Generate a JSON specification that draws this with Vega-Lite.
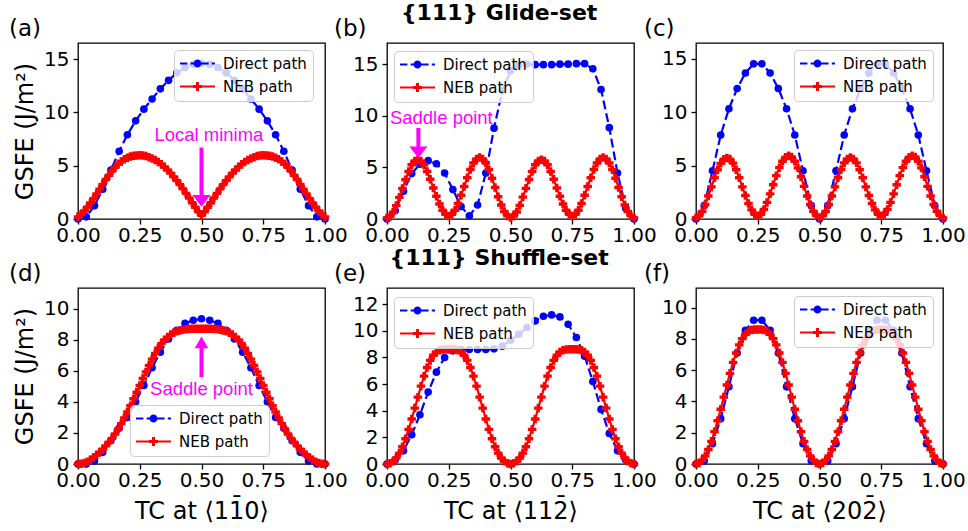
{
"$schema": "https://vega.github.io/schema/vega-lite/v6.json",
"padding": {"left": 8, "top": 2, "right": 0, "bottom": 0},
"background": "white",
"config": {
 "font": "DejaVu Sans",
 "view": {"stroke": "#000000", "strokeWidth": 1.3},
 "axis": {"grid": false, "domain": false, "ticks": true, "tickCount": 20, "tickColor": "#000000", "tickSize": 5, "tickWidth": 1.3, "labelColor": "#000000", "labelFont": "DejaVu Sans", "labelFontSize": 20, "labelFlush": false, "labelOverlap": false, "labelBound": false, "titleFont": "DejaVu Sans", "titleFontSize": 24, "titleFontWeight": "normal", "titleColor": "#000000"},
 "axisX": {"labelPadding": 1, "titlePadding": 9, "titleFontSize": 24, "format": ".2f"},
 "axisY": {"labelPadding": 4, "titlePadding": 6, "format": ".0f"},
 "legend": {"orient": "none", "labelFont": "DejaVu Sans", "labelFontSize": 15, "labelColor": "#000000", "fillColor": "rgba(255,255,255,0.8)", "strokeColor": "#cccccc", "cornerRadius": 4, "padding": 6, "rowPadding": 7, "symbolSize": 100, "symbolOffset": 10, "labelOffset": 18, "symbolStrokeWidth": 0, "symbolOpacity": 1},
 "title": {"font": "DejaVu Sans", "color": "#000000", "fontWeight": "normal", "fontSize": 23}
},
"datasets": {
 "a": [
  {"path":"Direct path","tc":0,"gsfe":0},{"path":"Direct path","tc":0.0333,"gsfe":0.2},{"path":"Direct path","tc":0.0667,"gsfe":1.25},{"path":"Direct path","tc":0.1,"gsfe":2.8},{"path":"Direct path","tc":0.1333,"gsfe":4.6},{"path":"Direct path","tc":0.1667,"gsfe":6.35},{"path":"Direct path","tc":0.2,"gsfe":7.9},{"path":"Direct path","tc":0.2333,"gsfe":9.2},{"path":"Direct path","tc":0.2667,"gsfe":10.3},{"path":"Direct path","tc":0.3,"gsfe":11.25},{"path":"Direct path","tc":0.3333,"gsfe":12.2},{"path":"Direct path","tc":0.3667,"gsfe":13},{"path":"Direct path","tc":0.4,"gsfe":13.7},{"path":"Direct path","tc":0.4333,"gsfe":14.2},{"path":"Direct path","tc":0.4667,"gsfe":14.5},{"path":"Direct path","tc":0.5,"gsfe":14.6},{"path":"Direct path","tc":0.5333,"gsfe":14.5},{"path":"Direct path","tc":0.5667,"gsfe":14.2},{"path":"Direct path","tc":0.6,"gsfe":13.7},{"path":"Direct path","tc":0.6333,"gsfe":13},{"path":"Direct path","tc":0.6667,"gsfe":12.2},{"path":"Direct path","tc":0.7,"gsfe":11.25},{"path":"Direct path","tc":0.7333,"gsfe":10.3},{"path":"Direct path","tc":0.7667,"gsfe":9.2},{"path":"Direct path","tc":0.8,"gsfe":7.9},{"path":"Direct path","tc":0.8333,"gsfe":6.35},{"path":"Direct path","tc":0.8667,"gsfe":4.6},{"path":"Direct path","tc":0.9,"gsfe":2.8},{"path":"Direct path","tc":0.9333,"gsfe":1.25},{"path":"Direct path","tc":0.9667,"gsfe":0.2},{"path":"Direct path","tc":1,"gsfe":0},
  {"path":"NEB path","tc":0,"gsfe":0.2},{"path":"NEB path","tc":0.0125,"gsfe":0.45},{"path":"NEB path","tc":0.025,"gsfe":0.75},{"path":"NEB path","tc":0.0375,"gsfe":1.1},{"path":"NEB path","tc":0.05,"gsfe":1.5},{"path":"NEB path","tc":0.0625,"gsfe":1.9},{"path":"NEB path","tc":0.075,"gsfe":2.35},{"path":"NEB path","tc":0.0875,"gsfe":2.8},{"path":"NEB path","tc":0.1,"gsfe":3.25},{"path":"NEB path","tc":0.1125,"gsfe":3.7},{"path":"NEB path","tc":0.125,"gsfe":4.1},{"path":"NEB path","tc":0.1375,"gsfe":4.5},{"path":"NEB path","tc":0.15,"gsfe":4.85},{"path":"NEB path","tc":0.1625,"gsfe":5.15},{"path":"NEB path","tc":0.175,"gsfe":5.4},{"path":"NEB path","tc":0.1875,"gsfe":5.6},{"path":"NEB path","tc":0.2,"gsfe":5.75},{"path":"NEB path","tc":0.2125,"gsfe":5.85},{"path":"NEB path","tc":0.225,"gsfe":5.92},{"path":"NEB path","tc":0.2375,"gsfe":5.96},{"path":"NEB path","tc":0.25,"gsfe":5.97},{"path":"NEB path","tc":0.2625,"gsfe":5.95},{"path":"NEB path","tc":0.275,"gsfe":5.9},{"path":"NEB path","tc":0.2875,"gsfe":5.8},{"path":"NEB path","tc":0.3,"gsfe":5.68},{"path":"NEB path","tc":0.3125,"gsfe":5.53},{"path":"NEB path","tc":0.325,"gsfe":5.35},{"path":"NEB path","tc":0.3375,"gsfe":5.13},{"path":"NEB path","tc":0.35,"gsfe":4.88},{"path":"NEB path","tc":0.3625,"gsfe":4.6},{"path":"NEB path","tc":0.375,"gsfe":4.3},{"path":"NEB path","tc":0.3875,"gsfe":3.95},{"path":"NEB path","tc":0.4,"gsfe":3.6},{"path":"NEB path","tc":0.4125,"gsfe":3.22},{"path":"NEB path","tc":0.425,"gsfe":2.82},{"path":"NEB path","tc":0.4375,"gsfe":2.4},{"path":"NEB path","tc":0.45,"gsfe":1.97},{"path":"NEB path","tc":0.4625,"gsfe":1.53},{"path":"NEB path","tc":0.475,"gsfe":1.1},{"path":"NEB path","tc":0.4875,"gsfe":0.68},{"path":"NEB path","tc":0.5,"gsfe":0.35},{"path":"NEB path","tc":0.5125,"gsfe":0.68},{"path":"NEB path","tc":0.525,"gsfe":1.1},{"path":"NEB path","tc":0.5375,"gsfe":1.53},{"path":"NEB path","tc":0.55,"gsfe":1.97},{"path":"NEB path","tc":0.5625,"gsfe":2.4},{"path":"NEB path","tc":0.575,"gsfe":2.82},{"path":"NEB path","tc":0.5875,"gsfe":3.22},{"path":"NEB path","tc":0.6,"gsfe":3.6},{"path":"NEB path","tc":0.6125,"gsfe":3.95},{"path":"NEB path","tc":0.625,"gsfe":4.3},{"path":"NEB path","tc":0.6375,"gsfe":4.6},{"path":"NEB path","tc":0.65,"gsfe":4.88},{"path":"NEB path","tc":0.6625,"gsfe":5.13},{"path":"NEB path","tc":0.675,"gsfe":5.35},{"path":"NEB path","tc":0.6875,"gsfe":5.53},{"path":"NEB path","tc":0.7,"gsfe":5.68},{"path":"NEB path","tc":0.7125,"gsfe":5.8},{"path":"NEB path","tc":0.725,"gsfe":5.9},{"path":"NEB path","tc":0.7375,"gsfe":5.95},{"path":"NEB path","tc":0.75,"gsfe":5.97},{"path":"NEB path","tc":0.7625,"gsfe":5.96},{"path":"NEB path","tc":0.775,"gsfe":5.92},{"path":"NEB path","tc":0.7875,"gsfe":5.85},{"path":"NEB path","tc":0.8,"gsfe":5.75},{"path":"NEB path","tc":0.8125,"gsfe":5.6},{"path":"NEB path","tc":0.825,"gsfe":5.4},{"path":"NEB path","tc":0.8375,"gsfe":5.15},{"path":"NEB path","tc":0.85,"gsfe":4.85},{"path":"NEB path","tc":0.8625,"gsfe":4.5},{"path":"NEB path","tc":0.875,"gsfe":4.1},{"path":"NEB path","tc":0.8875,"gsfe":3.7},{"path":"NEB path","tc":0.9,"gsfe":3.25},{"path":"NEB path","tc":0.9125,"gsfe":2.8},{"path":"NEB path","tc":0.925,"gsfe":2.35},{"path":"NEB path","tc":0.9375,"gsfe":1.9},{"path":"NEB path","tc":0.95,"gsfe":1.5},{"path":"NEB path","tc":0.9625,"gsfe":1.1},{"path":"NEB path","tc":0.975,"gsfe":0.75},{"path":"NEB path","tc":0.9875,"gsfe":0.45},{"path":"NEB path","tc":1,"gsfe":0.2}
 ],
 "b": [
  {"path":"Direct path","tc":0,"gsfe":0},{"path":"Direct path","tc":0.0333,"gsfe":0.8},{"path":"Direct path","tc":0.0667,"gsfe":2.7},{"path":"Direct path","tc":0.1,"gsfe":4.4},{"path":"Direct path","tc":0.1333,"gsfe":5.3},{"path":"Direct path","tc":0.1667,"gsfe":5.65},{"path":"Direct path","tc":0.2,"gsfe":5.35},{"path":"Direct path","tc":0.2333,"gsfe":4.45},{"path":"Direct path","tc":0.2667,"gsfe":2.85},{"path":"Direct path","tc":0.3,"gsfe":1.2},{"path":"Direct path","tc":0.3333,"gsfe":0.3},{"path":"Direct path","tc":0.3667,"gsfe":1.35},{"path":"Direct path","tc":0.4,"gsfe":4.45},{"path":"Direct path","tc":0.4333,"gsfe":8.8},{"path":"Direct path","tc":0.4667,"gsfe":12.4},{"path":"Direct path","tc":0.5,"gsfe":14.35},{"path":"Direct path","tc":0.5333,"gsfe":14.9},{"path":"Direct path","tc":0.5667,"gsfe":15},{"path":"Direct path","tc":0.6,"gsfe":14.95},{"path":"Direct path","tc":0.6333,"gsfe":14.95},{"path":"Direct path","tc":0.6667,"gsfe":14.95},{"path":"Direct path","tc":0.7,"gsfe":15},{"path":"Direct path","tc":0.7333,"gsfe":15},{"path":"Direct path","tc":0.7667,"gsfe":15.05},{"path":"Direct path","tc":0.8,"gsfe":15.05},{"path":"Direct path","tc":0.8333,"gsfe":14.55},{"path":"Direct path","tc":0.8667,"gsfe":12.55},{"path":"Direct path","tc":0.9,"gsfe":8.85},{"path":"Direct path","tc":0.9333,"gsfe":4.45},{"path":"Direct path","tc":0.9667,"gsfe":1.05},{"path":"Direct path","tc":1,"gsfe":0},
  {"path":"NEB path","tc":0,"gsfe":0.1},{"path":"NEB path","tc":0.0125,"gsfe":0.25},{"path":"NEB path","tc":0.025,"gsfe":0.65},{"path":"NEB path","tc":0.0375,"gsfe":1.3},{"path":"NEB path","tc":0.05,"gsfe":2.1},{"path":"NEB path","tc":0.0625,"gsfe":2.95},{"path":"NEB path","tc":0.075,"gsfe":3.8},{"path":"NEB path","tc":0.0875,"gsfe":4.6},{"path":"NEB path","tc":0.1,"gsfe":5.25},{"path":"NEB path","tc":0.1125,"gsfe":5.62},{"path":"NEB path","tc":0.125,"gsfe":5.75},{"path":"NEB path","tc":0.1375,"gsfe":5.62},{"path":"NEB path","tc":0.15,"gsfe":5.25},{"path":"NEB path","tc":0.1625,"gsfe":4.6},{"path":"NEB path","tc":0.175,"gsfe":3.85},{"path":"NEB path","tc":0.1875,"gsfe":3},{"path":"NEB path","tc":0.2,"gsfe":2.2},{"path":"NEB path","tc":0.2125,"gsfe":1.45},{"path":"NEB path","tc":0.225,"gsfe":0.85},{"path":"NEB path","tc":0.2375,"gsfe":0.45},{"path":"NEB path","tc":0.25,"gsfe":0.3},{"path":"NEB path","tc":0.2625,"gsfe":0.45},{"path":"NEB path","tc":0.275,"gsfe":0.85},{"path":"NEB path","tc":0.2875,"gsfe":1.5},{"path":"NEB path","tc":0.3,"gsfe":2.3},{"path":"NEB path","tc":0.3125,"gsfe":3.15},{"path":"NEB path","tc":0.325,"gsfe":4},{"path":"NEB path","tc":0.3375,"gsfe":4.8},{"path":"NEB path","tc":0.35,"gsfe":5.42},{"path":"NEB path","tc":0.3625,"gsfe":5.82},{"path":"NEB path","tc":0.375,"gsfe":5.95},{"path":"NEB path","tc":0.3875,"gsfe":5.82},{"path":"NEB path","tc":0.4,"gsfe":5.42},{"path":"NEB path","tc":0.4125,"gsfe":4.78},{"path":"NEB path","tc":0.425,"gsfe":3.95},{"path":"NEB path","tc":0.4375,"gsfe":3.05},{"path":"NEB path","tc":0.45,"gsfe":2.15},{"path":"NEB path","tc":0.4625,"gsfe":1.35},{"path":"NEB path","tc":0.475,"gsfe":0.72},{"path":"NEB path","tc":0.4875,"gsfe":0.3},{"path":"NEB path","tc":0.5,"gsfe":0.15},{"path":"NEB path","tc":0.5125,"gsfe":0.28},{"path":"NEB path","tc":0.525,"gsfe":0.68},{"path":"NEB path","tc":0.5375,"gsfe":1.32},{"path":"NEB path","tc":0.55,"gsfe":2.12},{"path":"NEB path","tc":0.5625,"gsfe":2.97},{"path":"NEB path","tc":0.575,"gsfe":3.82},{"path":"NEB path","tc":0.5875,"gsfe":4.6},{"path":"NEB path","tc":0.6,"gsfe":5.25},{"path":"NEB path","tc":0.6125,"gsfe":5.62},{"path":"NEB path","tc":0.625,"gsfe":5.75},{"path":"NEB path","tc":0.6375,"gsfe":5.62},{"path":"NEB path","tc":0.65,"gsfe":5.25},{"path":"NEB path","tc":0.6625,"gsfe":4.6},{"path":"NEB path","tc":0.675,"gsfe":3.85},{"path":"NEB path","tc":0.6875,"gsfe":3},{"path":"NEB path","tc":0.7,"gsfe":2.2},{"path":"NEB path","tc":0.7125,"gsfe":1.45},{"path":"NEB path","tc":0.725,"gsfe":0.85},{"path":"NEB path","tc":0.7375,"gsfe":0.45},{"path":"NEB path","tc":0.75,"gsfe":0.3},{"path":"NEB path","tc":0.7625,"gsfe":0.45},{"path":"NEB path","tc":0.775,"gsfe":0.85},{"path":"NEB path","tc":0.7875,"gsfe":1.5},{"path":"NEB path","tc":0.8,"gsfe":2.3},{"path":"NEB path","tc":0.8125,"gsfe":3.15},{"path":"NEB path","tc":0.825,"gsfe":4},{"path":"NEB path","tc":0.8375,"gsfe":4.8},{"path":"NEB path","tc":0.85,"gsfe":5.42},{"path":"NEB path","tc":0.8625,"gsfe":5.82},{"path":"NEB path","tc":0.875,"gsfe":5.95},{"path":"NEB path","tc":0.8875,"gsfe":5.82},{"path":"NEB path","tc":0.9,"gsfe":5.42},{"path":"NEB path","tc":0.9125,"gsfe":4.78},{"path":"NEB path","tc":0.925,"gsfe":3.95},{"path":"NEB path","tc":0.9375,"gsfe":3.05},{"path":"NEB path","tc":0.95,"gsfe":2.15},{"path":"NEB path","tc":0.9625,"gsfe":1.35},{"path":"NEB path","tc":0.975,"gsfe":0.72},{"path":"NEB path","tc":0.9875,"gsfe":0.3},{"path":"NEB path","tc":1,"gsfe":0.1}
 ],
 "c": [
  {"path":"Direct path","tc":0,"gsfe":0},{"path":"Direct path","tc":0.0333,"gsfe":1.25},{"path":"Direct path","tc":0.0667,"gsfe":4.5},{"path":"Direct path","tc":0.1,"gsfe":7.85},{"path":"Direct path","tc":0.1333,"gsfe":10.3},{"path":"Direct path","tc":0.1667,"gsfe":12.2},{"path":"Direct path","tc":0.2,"gsfe":13.65},{"path":"Direct path","tc":0.2333,"gsfe":14.5},{"path":"Direct path","tc":0.2667,"gsfe":14.5},{"path":"Direct path","tc":0.3,"gsfe":13.65},{"path":"Direct path","tc":0.3333,"gsfe":12.2},{"path":"Direct path","tc":0.3667,"gsfe":10.3},{"path":"Direct path","tc":0.4,"gsfe":7.85},{"path":"Direct path","tc":0.4333,"gsfe":4.5},{"path":"Direct path","tc":0.4667,"gsfe":1.25},{"path":"Direct path","tc":0.5,"gsfe":0},{"path":"Direct path","tc":0.5333,"gsfe":1.25},{"path":"Direct path","tc":0.5667,"gsfe":4.5},{"path":"Direct path","tc":0.6,"gsfe":7.85},{"path":"Direct path","tc":0.6333,"gsfe":10.3},{"path":"Direct path","tc":0.6667,"gsfe":12.2},{"path":"Direct path","tc":0.7,"gsfe":13.65},{"path":"Direct path","tc":0.7333,"gsfe":14.5},{"path":"Direct path","tc":0.7667,"gsfe":14.5},{"path":"Direct path","tc":0.8,"gsfe":13.65},{"path":"Direct path","tc":0.8333,"gsfe":12.2},{"path":"Direct path","tc":0.8667,"gsfe":10.3},{"path":"Direct path","tc":0.9,"gsfe":7.85},{"path":"Direct path","tc":0.9333,"gsfe":4.5},{"path":"Direct path","tc":0.9667,"gsfe":1.25},{"path":"Direct path","tc":1,"gsfe":0},
  {"path":"NEB path","tc":0,"gsfe":0.1},{"path":"NEB path","tc":0.0125,"gsfe":0.3},{"path":"NEB path","tc":0.025,"gsfe":0.7},{"path":"NEB path","tc":0.0375,"gsfe":1.35},{"path":"NEB path","tc":0.05,"gsfe":2.15},{"path":"NEB path","tc":0.0625,"gsfe":3},{"path":"NEB path","tc":0.075,"gsfe":3.85},{"path":"NEB path","tc":0.0875,"gsfe":4.6},{"path":"NEB path","tc":0.1,"gsfe":5.2},{"path":"NEB path","tc":0.1125,"gsfe":5.58},{"path":"NEB path","tc":0.125,"gsfe":5.7},{"path":"NEB path","tc":0.1375,"gsfe":5.6},{"path":"NEB path","tc":0.15,"gsfe":5.22},{"path":"NEB path","tc":0.1625,"gsfe":4.6},{"path":"NEB path","tc":0.175,"gsfe":3.85},{"path":"NEB path","tc":0.1875,"gsfe":3},{"path":"NEB path","tc":0.2,"gsfe":2.2},{"path":"NEB path","tc":0.2125,"gsfe":1.45},{"path":"NEB path","tc":0.225,"gsfe":0.85},{"path":"NEB path","tc":0.2375,"gsfe":0.45},{"path":"NEB path","tc":0.25,"gsfe":0.3},{"path":"NEB path","tc":0.2625,"gsfe":0.45},{"path":"NEB path","tc":0.275,"gsfe":0.9},{"path":"NEB path","tc":0.2875,"gsfe":1.55},{"path":"NEB path","tc":0.3,"gsfe":2.35},{"path":"NEB path","tc":0.3125,"gsfe":3.2},{"path":"NEB path","tc":0.325,"gsfe":4.05},{"path":"NEB path","tc":0.3375,"gsfe":4.8},{"path":"NEB path","tc":0.35,"gsfe":5.4},{"path":"NEB path","tc":0.3625,"gsfe":5.78},{"path":"NEB path","tc":0.375,"gsfe":5.92},{"path":"NEB path","tc":0.3875,"gsfe":5.8},{"path":"NEB path","tc":0.4,"gsfe":5.4},{"path":"NEB path","tc":0.4125,"gsfe":4.78},{"path":"NEB path","tc":0.425,"gsfe":3.95},{"path":"NEB path","tc":0.4375,"gsfe":3.05},{"path":"NEB path","tc":0.45,"gsfe":2.15},{"path":"NEB path","tc":0.4625,"gsfe":1.35},{"path":"NEB path","tc":0.475,"gsfe":0.72},{"path":"NEB path","tc":0.4875,"gsfe":0.32},{"path":"NEB path","tc":0.5,"gsfe":0.15},{"path":"NEB path","tc":0.5125,"gsfe":0.3},{"path":"NEB path","tc":0.525,"gsfe":0.7},{"path":"NEB path","tc":0.5375,"gsfe":1.35},{"path":"NEB path","tc":0.55,"gsfe":2.15},{"path":"NEB path","tc":0.5625,"gsfe":3},{"path":"NEB path","tc":0.575,"gsfe":3.85},{"path":"NEB path","tc":0.5875,"gsfe":4.62},{"path":"NEB path","tc":0.6,"gsfe":5.25},{"path":"NEB path","tc":0.6125,"gsfe":5.62},{"path":"NEB path","tc":0.625,"gsfe":5.75},{"path":"NEB path","tc":0.6375,"gsfe":5.62},{"path":"NEB path","tc":0.65,"gsfe":5.25},{"path":"NEB path","tc":0.6625,"gsfe":4.6},{"path":"NEB path","tc":0.675,"gsfe":3.85},{"path":"NEB path","tc":0.6875,"gsfe":3},{"path":"NEB path","tc":0.7,"gsfe":2.2},{"path":"NEB path","tc":0.7125,"gsfe":1.45},{"path":"NEB path","tc":0.725,"gsfe":0.85},{"path":"NEB path","tc":0.7375,"gsfe":0.45},{"path":"NEB path","tc":0.75,"gsfe":0.3},{"path":"NEB path","tc":0.7625,"gsfe":0.45},{"path":"NEB path","tc":0.775,"gsfe":0.9},{"path":"NEB path","tc":0.7875,"gsfe":1.55},{"path":"NEB path","tc":0.8,"gsfe":2.35},{"path":"NEB path","tc":0.8125,"gsfe":3.2},{"path":"NEB path","tc":0.825,"gsfe":4.05},{"path":"NEB path","tc":0.8375,"gsfe":4.8},{"path":"NEB path","tc":0.85,"gsfe":5.4},{"path":"NEB path","tc":0.8625,"gsfe":5.78},{"path":"NEB path","tc":0.875,"gsfe":5.92},{"path":"NEB path","tc":0.8875,"gsfe":5.8},{"path":"NEB path","tc":0.9,"gsfe":5.4},{"path":"NEB path","tc":0.9125,"gsfe":4.78},{"path":"NEB path","tc":0.925,"gsfe":3.95},{"path":"NEB path","tc":0.9375,"gsfe":3.05},{"path":"NEB path","tc":0.95,"gsfe":2.15},{"path":"NEB path","tc":0.9625,"gsfe":1.35},{"path":"NEB path","tc":0.975,"gsfe":0.72},{"path":"NEB path","tc":0.9875,"gsfe":0.32},{"path":"NEB path","tc":1,"gsfe":0.1}
 ],
 "d": [
  {"path":"Direct path","tc":0,"gsfe":0},{"path":"Direct path","tc":0.0333,"gsfe":0},{"path":"Direct path","tc":0.0667,"gsfe":0.2},{"path":"Direct path","tc":0.1,"gsfe":0.75},{"path":"Direct path","tc":0.1333,"gsfe":1.5},{"path":"Direct path","tc":0.1667,"gsfe":2.3},{"path":"Direct path","tc":0.2,"gsfe":3},{"path":"Direct path","tc":0.2333,"gsfe":4},{"path":"Direct path","tc":0.2667,"gsfe":5.05},{"path":"Direct path","tc":0.3,"gsfe":6.2},{"path":"Direct path","tc":0.3333,"gsfe":7.2},{"path":"Direct path","tc":0.3667,"gsfe":8.05},{"path":"Direct path","tc":0.4,"gsfe":8.6},{"path":"Direct path","tc":0.4333,"gsfe":9.05},{"path":"Direct path","tc":0.4667,"gsfe":9.25},{"path":"Direct path","tc":0.5,"gsfe":9.35},{"path":"Direct path","tc":0.5333,"gsfe":9.25},{"path":"Direct path","tc":0.5667,"gsfe":9.05},{"path":"Direct path","tc":0.6,"gsfe":8.6},{"path":"Direct path","tc":0.6333,"gsfe":8.05},{"path":"Direct path","tc":0.6667,"gsfe":7.2},{"path":"Direct path","tc":0.7,"gsfe":6.2},{"path":"Direct path","tc":0.7333,"gsfe":5.05},{"path":"Direct path","tc":0.7667,"gsfe":4},{"path":"Direct path","tc":0.8,"gsfe":3},{"path":"Direct path","tc":0.8333,"gsfe":2.3},{"path":"Direct path","tc":0.8667,"gsfe":1.5},{"path":"Direct path","tc":0.9,"gsfe":0.75},{"path":"Direct path","tc":0.9333,"gsfe":0.2},{"path":"Direct path","tc":0.9667,"gsfe":0},{"path":"Direct path","tc":1,"gsfe":0},
  {"path":"NEB path","tc":0,"gsfe":0},{"path":"NEB path","tc":0.0125,"gsfe":0.02},{"path":"NEB path","tc":0.025,"gsfe":0.07},{"path":"NEB path","tc":0.0375,"gsfe":0.15},{"path":"NEB path","tc":0.05,"gsfe":0.27},{"path":"NEB path","tc":0.0625,"gsfe":0.42},{"path":"NEB path","tc":0.075,"gsfe":0.58},{"path":"NEB path","tc":0.0875,"gsfe":0.76},{"path":"NEB path","tc":0.1,"gsfe":0.95},{"path":"NEB path","tc":0.1125,"gsfe":1.17},{"path":"NEB path","tc":0.125,"gsfe":1.4},{"path":"NEB path","tc":0.1375,"gsfe":1.65},{"path":"NEB path","tc":0.15,"gsfe":1.93},{"path":"NEB path","tc":0.1625,"gsfe":2.25},{"path":"NEB path","tc":0.175,"gsfe":2.6},{"path":"NEB path","tc":0.1875,"gsfe":2.97},{"path":"NEB path","tc":0.2,"gsfe":3.35},{"path":"NEB path","tc":0.2125,"gsfe":3.75},{"path":"NEB path","tc":0.225,"gsfe":4.2},{"path":"NEB path","tc":0.2375,"gsfe":4.62},{"path":"NEB path","tc":0.25,"gsfe":5.05},{"path":"NEB path","tc":0.2625,"gsfe":5.5},{"path":"NEB path","tc":0.275,"gsfe":5.93},{"path":"NEB path","tc":0.2875,"gsfe":6.35},{"path":"NEB path","tc":0.3,"gsfe":6.75},{"path":"NEB path","tc":0.3125,"gsfe":7.12},{"path":"NEB path","tc":0.325,"gsfe":7.45},{"path":"NEB path","tc":0.3375,"gsfe":7.75},{"path":"NEB path","tc":0.35,"gsfe":7.98},{"path":"NEB path","tc":0.3625,"gsfe":8.17},{"path":"NEB path","tc":0.375,"gsfe":8.33},{"path":"NEB path","tc":0.3875,"gsfe":8.45},{"path":"NEB path","tc":0.4,"gsfe":8.54},{"path":"NEB path","tc":0.4125,"gsfe":8.6},{"path":"NEB path","tc":0.425,"gsfe":8.64},{"path":"NEB path","tc":0.4375,"gsfe":8.67},{"path":"NEB path","tc":0.45,"gsfe":8.69},{"path":"NEB path","tc":0.4625,"gsfe":8.7},{"path":"NEB path","tc":0.475,"gsfe":8.7},{"path":"NEB path","tc":0.4875,"gsfe":8.7},{"path":"NEB path","tc":0.5,"gsfe":8.7},{"path":"NEB path","tc":0.5125,"gsfe":8.7},{"path":"NEB path","tc":0.525,"gsfe":8.7},{"path":"NEB path","tc":0.5375,"gsfe":8.7},{"path":"NEB path","tc":0.55,"gsfe":8.69},{"path":"NEB path","tc":0.5625,"gsfe":8.67},{"path":"NEB path","tc":0.575,"gsfe":8.64},{"path":"NEB path","tc":0.5875,"gsfe":8.6},{"path":"NEB path","tc":0.6,"gsfe":8.54},{"path":"NEB path","tc":0.6125,"gsfe":8.45},{"path":"NEB path","tc":0.625,"gsfe":8.33},{"path":"NEB path","tc":0.6375,"gsfe":8.17},{"path":"NEB path","tc":0.65,"gsfe":7.98},{"path":"NEB path","tc":0.6625,"gsfe":7.75},{"path":"NEB path","tc":0.675,"gsfe":7.45},{"path":"NEB path","tc":0.6875,"gsfe":7.12},{"path":"NEB path","tc":0.7,"gsfe":6.75},{"path":"NEB path","tc":0.7125,"gsfe":6.35},{"path":"NEB path","tc":0.725,"gsfe":5.93},{"path":"NEB path","tc":0.7375,"gsfe":5.5},{"path":"NEB path","tc":0.75,"gsfe":5.05},{"path":"NEB path","tc":0.7625,"gsfe":4.62},{"path":"NEB path","tc":0.775,"gsfe":4.2},{"path":"NEB path","tc":0.7875,"gsfe":3.75},{"path":"NEB path","tc":0.8,"gsfe":3.35},{"path":"NEB path","tc":0.8125,"gsfe":2.97},{"path":"NEB path","tc":0.825,"gsfe":2.6},{"path":"NEB path","tc":0.8375,"gsfe":2.25},{"path":"NEB path","tc":0.85,"gsfe":1.93},{"path":"NEB path","tc":0.8625,"gsfe":1.65},{"path":"NEB path","tc":0.875,"gsfe":1.4},{"path":"NEB path","tc":0.8875,"gsfe":1.17},{"path":"NEB path","tc":0.9,"gsfe":0.95},{"path":"NEB path","tc":0.9125,"gsfe":0.76},{"path":"NEB path","tc":0.925,"gsfe":0.58},{"path":"NEB path","tc":0.9375,"gsfe":0.42},{"path":"NEB path","tc":0.95,"gsfe":0.27},{"path":"NEB path","tc":0.9625,"gsfe":0.15},{"path":"NEB path","tc":0.975,"gsfe":0.07},{"path":"NEB path","tc":0.9875,"gsfe":0.02},{"path":"NEB path","tc":1,"gsfe":0}
 ],
 "e": [
  {"path":"Direct path","tc":0,"gsfe":0},{"path":"Direct path","tc":0.0333,"gsfe":0.3},{"path":"Direct path","tc":0.0667,"gsfe":1},{"path":"Direct path","tc":0.1,"gsfe":2.2},{"path":"Direct path","tc":0.1333,"gsfe":3.7},{"path":"Direct path","tc":0.1667,"gsfe":5.4},{"path":"Direct path","tc":0.2,"gsfe":6.9},{"path":"Direct path","tc":0.2333,"gsfe":8},{"path":"Direct path","tc":0.2667,"gsfe":8.5},{"path":"Direct path","tc":0.3,"gsfe":8.6},{"path":"Direct path","tc":0.3333,"gsfe":8.6},{"path":"Direct path","tc":0.3667,"gsfe":8.6},{"path":"Direct path","tc":0.4,"gsfe":8.6},{"path":"Direct path","tc":0.4333,"gsfe":8.65},{"path":"Direct path","tc":0.4667,"gsfe":8.85},{"path":"Direct path","tc":0.5,"gsfe":9.3},{"path":"Direct path","tc":0.5333,"gsfe":9.75},{"path":"Direct path","tc":0.5667,"gsfe":10.25},{"path":"Direct path","tc":0.6,"gsfe":10.75},{"path":"Direct path","tc":0.6333,"gsfe":11.1},{"path":"Direct path","tc":0.6667,"gsfe":11.2},{"path":"Direct path","tc":0.7,"gsfe":11.05},{"path":"Direct path","tc":0.7333,"gsfe":10.5},{"path":"Direct path","tc":0.7667,"gsfe":9.5},{"path":"Direct path","tc":0.8,"gsfe":8.1},{"path":"Direct path","tc":0.8333,"gsfe":6.2},{"path":"Direct path","tc":0.8667,"gsfe":4.1},{"path":"Direct path","tc":0.9,"gsfe":2.3},{"path":"Direct path","tc":0.9333,"gsfe":1},{"path":"Direct path","tc":0.9667,"gsfe":0.3},{"path":"Direct path","tc":1,"gsfe":0},
  {"path":"NEB path","tc":0,"gsfe":0},{"path":"NEB path","tc":0.0125,"gsfe":0.06},{"path":"NEB path","tc":0.025,"gsfe":0.2},{"path":"NEB path","tc":0.0375,"gsfe":0.45},{"path":"NEB path","tc":0.05,"gsfe":0.82},{"path":"NEB path","tc":0.0625,"gsfe":1.3},{"path":"NEB path","tc":0.075,"gsfe":1.9},{"path":"NEB path","tc":0.0875,"gsfe":2.6},{"path":"NEB path","tc":0.1,"gsfe":3.38},{"path":"NEB path","tc":0.1125,"gsfe":4.2},{"path":"NEB path","tc":0.125,"gsfe":5.02},{"path":"NEB path","tc":0.1375,"gsfe":5.85},{"path":"NEB path","tc":0.15,"gsfe":6.6},{"path":"NEB path","tc":0.1625,"gsfe":7.25},{"path":"NEB path","tc":0.175,"gsfe":7.78},{"path":"NEB path","tc":0.1875,"gsfe":8.17},{"path":"NEB path","tc":0.2,"gsfe":8.42},{"path":"NEB path","tc":0.2125,"gsfe":8.55},{"path":"NEB path","tc":0.225,"gsfe":8.6},{"path":"NEB path","tc":0.2375,"gsfe":8.62},{"path":"NEB path","tc":0.25,"gsfe":8.62},{"path":"NEB path","tc":0.2625,"gsfe":8.62},{"path":"NEB path","tc":0.275,"gsfe":8.6},{"path":"NEB path","tc":0.2875,"gsfe":8.55},{"path":"NEB path","tc":0.3,"gsfe":8.42},{"path":"NEB path","tc":0.3125,"gsfe":8.17},{"path":"NEB path","tc":0.325,"gsfe":7.78},{"path":"NEB path","tc":0.3375,"gsfe":7.25},{"path":"NEB path","tc":0.35,"gsfe":6.6},{"path":"NEB path","tc":0.3625,"gsfe":5.85},{"path":"NEB path","tc":0.375,"gsfe":5.02},{"path":"NEB path","tc":0.3875,"gsfe":4.2},{"path":"NEB path","tc":0.4,"gsfe":3.38},{"path":"NEB path","tc":0.4125,"gsfe":2.6},{"path":"NEB path","tc":0.425,"gsfe":1.9},{"path":"NEB path","tc":0.4375,"gsfe":1.3},{"path":"NEB path","tc":0.45,"gsfe":0.82},{"path":"NEB path","tc":0.4625,"gsfe":0.45},{"path":"NEB path","tc":0.475,"gsfe":0.2},{"path":"NEB path","tc":0.4875,"gsfe":0.06},{"path":"NEB path","tc":0.5,"gsfe":0},{"path":"NEB path","tc":0.5125,"gsfe":0.06},{"path":"NEB path","tc":0.525,"gsfe":0.2},{"path":"NEB path","tc":0.5375,"gsfe":0.45},{"path":"NEB path","tc":0.55,"gsfe":0.82},{"path":"NEB path","tc":0.5625,"gsfe":1.3},{"path":"NEB path","tc":0.575,"gsfe":1.9},{"path":"NEB path","tc":0.5875,"gsfe":2.6},{"path":"NEB path","tc":0.6,"gsfe":3.38},{"path":"NEB path","tc":0.6125,"gsfe":4.2},{"path":"NEB path","tc":0.625,"gsfe":5.02},{"path":"NEB path","tc":0.6375,"gsfe":5.85},{"path":"NEB path","tc":0.65,"gsfe":6.6},{"path":"NEB path","tc":0.6625,"gsfe":7.25},{"path":"NEB path","tc":0.675,"gsfe":7.78},{"path":"NEB path","tc":0.6875,"gsfe":8.17},{"path":"NEB path","tc":0.7,"gsfe":8.42},{"path":"NEB path","tc":0.7125,"gsfe":8.55},{"path":"NEB path","tc":0.725,"gsfe":8.6},{"path":"NEB path","tc":0.7375,"gsfe":8.62},{"path":"NEB path","tc":0.75,"gsfe":8.62},{"path":"NEB path","tc":0.7625,"gsfe":8.62},{"path":"NEB path","tc":0.775,"gsfe":8.6},{"path":"NEB path","tc":0.7875,"gsfe":8.55},{"path":"NEB path","tc":0.8,"gsfe":8.42},{"path":"NEB path","tc":0.8125,"gsfe":8.17},{"path":"NEB path","tc":0.825,"gsfe":7.78},{"path":"NEB path","tc":0.8375,"gsfe":7.25},{"path":"NEB path","tc":0.85,"gsfe":6.6},{"path":"NEB path","tc":0.8625,"gsfe":5.85},{"path":"NEB path","tc":0.875,"gsfe":5.02},{"path":"NEB path","tc":0.8875,"gsfe":4.2},{"path":"NEB path","tc":0.9,"gsfe":3.38},{"path":"NEB path","tc":0.9125,"gsfe":2.6},{"path":"NEB path","tc":0.925,"gsfe":1.9},{"path":"NEB path","tc":0.9375,"gsfe":1.3},{"path":"NEB path","tc":0.95,"gsfe":0.82},{"path":"NEB path","tc":0.9625,"gsfe":0.45},{"path":"NEB path","tc":0.975,"gsfe":0.2},{"path":"NEB path","tc":0.9875,"gsfe":0.06},{"path":"NEB path","tc":1,"gsfe":0}
 ],
 "f": [
  {"path":"Direct path","tc":0,"gsfe":0},{"path":"Direct path","tc":0.0333,"gsfe":0.2},{"path":"Direct path","tc":0.0667,"gsfe":1.3},{"path":"Direct path","tc":0.1,"gsfe":2.9},{"path":"Direct path","tc":0.1333,"gsfe":4.95},{"path":"Direct path","tc":0.1667,"gsfe":7.1},{"path":"Direct path","tc":0.2,"gsfe":8.55},{"path":"Direct path","tc":0.2333,"gsfe":9.2},{"path":"Direct path","tc":0.2667,"gsfe":9.2},{"path":"Direct path","tc":0.3,"gsfe":8.55},{"path":"Direct path","tc":0.3333,"gsfe":7.1},{"path":"Direct path","tc":0.3667,"gsfe":4.95},{"path":"Direct path","tc":0.4,"gsfe":2.9},{"path":"Direct path","tc":0.4333,"gsfe":1.3},{"path":"Direct path","tc":0.4667,"gsfe":0.2},{"path":"Direct path","tc":0.5,"gsfe":0},{"path":"Direct path","tc":0.5333,"gsfe":0.2},{"path":"Direct path","tc":0.5667,"gsfe":1.3},{"path":"Direct path","tc":0.6,"gsfe":2.9},{"path":"Direct path","tc":0.6333,"gsfe":4.95},{"path":"Direct path","tc":0.6667,"gsfe":7.1},{"path":"Direct path","tc":0.7,"gsfe":8.55},{"path":"Direct path","tc":0.7333,"gsfe":9.2},{"path":"Direct path","tc":0.7667,"gsfe":9.2},{"path":"Direct path","tc":0.8,"gsfe":8.55},{"path":"Direct path","tc":0.8333,"gsfe":7.1},{"path":"Direct path","tc":0.8667,"gsfe":4.95},{"path":"Direct path","tc":0.9,"gsfe":2.9},{"path":"Direct path","tc":0.9333,"gsfe":1.3},{"path":"Direct path","tc":0.9667,"gsfe":0.2},{"path":"Direct path","tc":1,"gsfe":0},
  {"path":"NEB path","tc":0,"gsfe":0},{"path":"NEB path","tc":0.0125,"gsfe":0.07},{"path":"NEB path","tc":0.025,"gsfe":0.24},{"path":"NEB path","tc":0.0375,"gsfe":0.52},{"path":"NEB path","tc":0.05,"gsfe":0.93},{"path":"NEB path","tc":0.0625,"gsfe":1.45},{"path":"NEB path","tc":0.075,"gsfe":2.07},{"path":"NEB path","tc":0.0875,"gsfe":2.77},{"path":"NEB path","tc":0.1,"gsfe":3.5},{"path":"NEB path","tc":0.1125,"gsfe":4.28},{"path":"NEB path","tc":0.125,"gsfe":5.05},{"path":"NEB path","tc":0.1375,"gsfe":5.8},{"path":"NEB path","tc":0.15,"gsfe":6.5},{"path":"NEB path","tc":0.1625,"gsfe":7.1},{"path":"NEB path","tc":0.175,"gsfe":7.62},{"path":"NEB path","tc":0.1875,"gsfe":8.02},{"path":"NEB path","tc":0.2,"gsfe":8.3},{"path":"NEB path","tc":0.2125,"gsfe":8.48},{"path":"NEB path","tc":0.225,"gsfe":8.57},{"path":"NEB path","tc":0.2375,"gsfe":8.6},{"path":"NEB path","tc":0.25,"gsfe":8.6},{"path":"NEB path","tc":0.2625,"gsfe":8.6},{"path":"NEB path","tc":0.275,"gsfe":8.57},{"path":"NEB path","tc":0.2875,"gsfe":8.48},{"path":"NEB path","tc":0.3,"gsfe":8.3},{"path":"NEB path","tc":0.3125,"gsfe":8.02},{"path":"NEB path","tc":0.325,"gsfe":7.62},{"path":"NEB path","tc":0.3375,"gsfe":7.1},{"path":"NEB path","tc":0.35,"gsfe":6.5},{"path":"NEB path","tc":0.3625,"gsfe":5.8},{"path":"NEB path","tc":0.375,"gsfe":5.05},{"path":"NEB path","tc":0.3875,"gsfe":4.28},{"path":"NEB path","tc":0.4,"gsfe":3.5},{"path":"NEB path","tc":0.4125,"gsfe":2.77},{"path":"NEB path","tc":0.425,"gsfe":2.07},{"path":"NEB path","tc":0.4375,"gsfe":1.45},{"path":"NEB path","tc":0.45,"gsfe":0.93},{"path":"NEB path","tc":0.4625,"gsfe":0.52},{"path":"NEB path","tc":0.475,"gsfe":0.24},{"path":"NEB path","tc":0.4875,"gsfe":0.07},{"path":"NEB path","tc":0.5,"gsfe":0},{"path":"NEB path","tc":0.5125,"gsfe":0.07},{"path":"NEB path","tc":0.525,"gsfe":0.24},{"path":"NEB path","tc":0.5375,"gsfe":0.52},{"path":"NEB path","tc":0.55,"gsfe":0.93},{"path":"NEB path","tc":0.5625,"gsfe":1.45},{"path":"NEB path","tc":0.575,"gsfe":2.07},{"path":"NEB path","tc":0.5875,"gsfe":2.77},{"path":"NEB path","tc":0.6,"gsfe":3.5},{"path":"NEB path","tc":0.6125,"gsfe":4.28},{"path":"NEB path","tc":0.625,"gsfe":5.05},{"path":"NEB path","tc":0.6375,"gsfe":5.8},{"path":"NEB path","tc":0.65,"gsfe":6.5},{"path":"NEB path","tc":0.6625,"gsfe":7.1},{"path":"NEB path","tc":0.675,"gsfe":7.62},{"path":"NEB path","tc":0.6875,"gsfe":8.02},{"path":"NEB path","tc":0.7,"gsfe":8.3},{"path":"NEB path","tc":0.7125,"gsfe":8.48},{"path":"NEB path","tc":0.725,"gsfe":8.57},{"path":"NEB path","tc":0.7375,"gsfe":8.6},{"path":"NEB path","tc":0.75,"gsfe":8.6},{"path":"NEB path","tc":0.7625,"gsfe":8.6},{"path":"NEB path","tc":0.775,"gsfe":8.57},{"path":"NEB path","tc":0.7875,"gsfe":8.48},{"path":"NEB path","tc":0.8,"gsfe":8.3},{"path":"NEB path","tc":0.8125,"gsfe":8.02},{"path":"NEB path","tc":0.825,"gsfe":7.62},{"path":"NEB path","tc":0.8375,"gsfe":7.1},{"path":"NEB path","tc":0.85,"gsfe":6.5},{"path":"NEB path","tc":0.8625,"gsfe":5.8},{"path":"NEB path","tc":0.875,"gsfe":5.05},{"path":"NEB path","tc":0.8875,"gsfe":4.28},{"path":"NEB path","tc":0.9,"gsfe":3.5},{"path":"NEB path","tc":0.9125,"gsfe":2.77},{"path":"NEB path","tc":0.925,"gsfe":2.07},{"path":"NEB path","tc":0.9375,"gsfe":1.45},{"path":"NEB path","tc":0.95,"gsfe":0.93},{"path":"NEB path","tc":0.9625,"gsfe":0.52},{"path":"NEB path","tc":0.975,"gsfe":0.24},{"path":"NEB path","tc":0.9875,"gsfe":0.07},{"path":"NEB path","tc":1,"gsfe":0}
 ]
},
"spacing": 1,
"resolve": {"scale": {"color": "independent", "shape": "independent"}, "legend": {"color": "independent", "shape": "independent"}},
"vconcat": [
 {
  "title": {"text": "{111} Glide-set", "fontWeight": "bold", "fontSize": 22, "anchor": "middle", "frame": "bounds", "dx": 12, "offset": -8},
  "spacing": 62, "bounds": "flush",
  "resolve": {"scale": {"color": "independent", "shape": "independent"}, "legend": {"color": "independent", "shape": "independent"}},
  "hconcat": [
   {
    "width": 247, "height": 176,
    "title": {"text": "(a)", "anchor": "start", "frame": "group", "dx": -69, "offset": 2},
    "data": {"name": "a"},
    "layer": [
     {"transform": [{"filter": "datum.path === 'Direct path'"}], "mark": {"type": "line", "color": "#0000ff", "strokeWidth": 2.2, "strokeDash": [9, 4]},
      "encoding": {"x": {"field": "tc", "type": "quantitative", "scale": {"domain": [0, 1], "nice": false, "zero": false}, "axis": {"values": [0, 0.25, 0.5, 0.75, 1], "format": ".2f", "title": null, "labelOverlap": false}},
                   "y": {"field": "gsfe", "type": "quantitative", "scale": {"domain": [0, 16.5], "nice": false}, "axis": {"values": [0, 5, 10, 15], "format": ".0f", "title": "GSFE (J/m²)", "labelOverlap": false}}}},
     {"transform": [{"filter": "datum.path === 'Direct path'"}], "mark": {"type": "point", "shape": "circle", "filled": true, "opacity": 1, "size": 58, "color": "#0000ff", "strokeWidth": 0},
      "encoding": {"x": {"field": "tc", "type": "quantitative"}, "y": {"field": "gsfe", "type": "quantitative"}}},
     {"transform": [{"filter": "datum.path === 'NEB path'"}], "mark": {"type": "line", "color": "#ff0000", "strokeWidth": 2.2},
      "encoding": {"x": {"field": "tc", "type": "quantitative"}, "y": {"field": "gsfe", "type": "quantitative"}}},
     {"transform": [{"filter": "datum.path === 'NEB path'"}], "mark": {"type": "point", "shape": "cross", "filled": true, "opacity": 1, "size": 72, "color": "#ff0000", "strokeWidth": 0},
      "encoding": {"x": {"field": "tc", "type": "quantitative"}, "y": {"field": "gsfe", "type": "quantitative"}}},
     {"data": {"values": [{"tc": 0.5, "from": 6.7, "to": 1.8}]}, "mark": {"type": "rule", "color": "#ff00ff", "strokeWidth": 4},
      "encoding": {"x": {"field": "tc", "type": "quantitative"}, "y": {"field": "from", "type": "quantitative"}, "y2": {"field": "to"}}},
     {"data": {"values": [{"tc": 0.5, "tip": 1.15}]}, "mark": {"type": "point", "shape": "M-1,-1.3L1,-1.3L0,0Z", "filled": true, "opacity": 1, "size": 324, "color": "#ff00ff", "strokeWidth": 0},
      "encoding": {"x": {"field": "tc", "type": "quantitative"}, "y": {"field": "tip", "type": "quantitative"}}},
     {"data": {"values": [{"label": "Local minima", "tc": 0.53, "gsfe": 7.9}]}, "mark": {"type": "text", "font": "Liberation Sans", "fontSize": 18.5, "color": "#ff00ff", "baseline": "middle"},
      "encoding": {"x": {"field": "tc", "type": "quantitative"}, "y": {"field": "gsfe", "type": "quantitative"}, "text": {"field": "label"}}},
     {"data": {"values": []}, "mark": {"type": "point", "filled": true, "opacity": 1, "size": 100, "strokeWidth": 0},
      "encoding": {"x": {"field": "tc", "type": "quantitative"}, "y": {"field": "gsfe", "type": "quantitative"},
       "color": {"field": "path", "type": "nominal", "scale": {"domain": ["Direct path", "NEB path"], "range": ["#0000ff", "#ff0000"]}, "legend": {"title": null, "legendX": 96, "legendY": 7}},
       "shape": {"field": "path", "type": "nominal", "scale": {"domain": ["Direct path", "NEB path"], "range": ["M-3.5,-0.22H-2.02V0.22H-3.5Z M-1.38,-0.22H0.1V0.22H-1.38Z M0.74,-0.22H2.22V0.22H0.74Z M2.86,-0.22H3.5V0.22H2.86Z M0.8,0A0.8,0.8,0,1,1,-0.8,0A0.8,0.8,0,1,1,0.8,0Z", "M-3.5,-0.22H3.5V0.22H-3.5Z M-0.3,-0.9H0.3V-0.3H0.9V0.3H0.3V0.9H-0.3V0.3H-0.9V-0.3H-0.3Z"]}, "legend": {"title": null, "legendX": 96, "legendY": 7}}}}
    ]
   },
   {
    "width": 247, "height": 176,
    "title": {"text": "(b)", "anchor": "start", "frame": "group", "dx": -53, "offset": 2},
    "data": {"name": "b"},
    "layer": [
     {"transform": [{"filter": "datum.path === 'Direct path'"}], "mark": {"type": "line", "color": "#0000ff", "strokeWidth": 2.2, "strokeDash": [9, 4]},
      "encoding": {"x": {"field": "tc", "type": "quantitative", "scale": {"domain": [0, 1], "nice": false, "zero": false}, "axis": {"values": [0, 0.25, 0.5, 0.75, 1], "format": ".2f", "title": null, "labelOverlap": false}},
                   "y": {"field": "gsfe", "type": "quantitative", "scale": {"domain": [0, 17.05], "nice": false}, "axis": {"values": [0, 5, 10, 15], "format": ".0f", "title": null, "labelOverlap": false}}}},
     {"transform": [{"filter": "datum.path === 'Direct path'"}], "mark": {"type": "point", "shape": "circle", "filled": true, "opacity": 1, "size": 58, "color": "#0000ff", "strokeWidth": 0},
      "encoding": {"x": {"field": "tc", "type": "quantitative"}, "y": {"field": "gsfe", "type": "quantitative"}}},
     {"transform": [{"filter": "datum.path === 'NEB path'"}], "mark": {"type": "line", "color": "#ff0000", "strokeWidth": 2.2},
      "encoding": {"x": {"field": "tc", "type": "quantitative"}, "y": {"field": "gsfe", "type": "quantitative"}}},
     {"transform": [{"filter": "datum.path === 'NEB path'"}], "mark": {"type": "point", "shape": "cross", "filled": true, "opacity": 1, "size": 72, "color": "#ff0000", "strokeWidth": 0},
      "encoding": {"x": {"field": "tc", "type": "quantitative"}, "y": {"field": "gsfe", "type": "quantitative"}}},
     {"data": {"values": [{"tc": 0.127, "from": 8.82, "to": 6.4}]}, "mark": {"type": "rule", "color": "#ff00ff", "strokeWidth": 4},
      "encoding": {"x": {"field": "tc", "type": "quantitative"}, "y": {"field": "from", "type": "quantitative"}, "y2": {"field": "to"}}},
     {"data": {"values": [{"tc": 0.127, "tip": 5.9}]}, "mark": {"type": "point", "shape": "M-1,-1.3L1,-1.3L0,0Z", "filled": true, "opacity": 1, "size": 324, "color": "#ff00ff", "strokeWidth": 0},
      "encoding": {"x": {"field": "tc", "type": "quantitative"}, "y": {"field": "tip", "type": "quantitative"}}},
     {"data": {"values": [{"label": "Saddle point", "tc": 0.22, "gsfe": 9.8}]}, "mark": {"type": "text", "font": "Liberation Sans", "fontSize": 18.5, "color": "#ff00ff", "baseline": "middle"},
      "encoding": {"x": {"field": "tc", "type": "quantitative"}, "y": {"field": "gsfe", "type": "quantitative"}, "text": {"field": "label"}}},
     {"data": {"values": []}, "mark": {"type": "point", "filled": true, "opacity": 1, "size": 100, "strokeWidth": 0},
      "encoding": {"x": {"field": "tc", "type": "quantitative"}, "y": {"field": "gsfe", "type": "quantitative"},
       "color": {"field": "path", "type": "nominal", "scale": {"domain": ["Direct path", "NEB path"], "range": ["#0000ff", "#ff0000"]}, "legend": {"title": null, "legendX": 7, "legendY": 8}},
       "shape": {"field": "path", "type": "nominal", "scale": {"domain": ["Direct path", "NEB path"], "range": ["M-3.5,-0.22H-2.02V0.22H-3.5Z M-1.38,-0.22H0.1V0.22H-1.38Z M0.74,-0.22H2.22V0.22H0.74Z M2.86,-0.22H3.5V0.22H2.86Z M0.8,0A0.8,0.8,0,1,1,-0.8,0A0.8,0.8,0,1,1,0.8,0Z", "M-3.5,-0.22H3.5V0.22H-3.5Z M-0.3,-0.9H0.3V-0.3H0.9V0.3H0.3V0.9H-0.3V0.3H-0.9V-0.3H-0.3Z"]}, "legend": {"title": null, "legendX": 7, "legendY": 8}}}}
    ]
   },
   {
    "width": 247, "height": 176,
    "title": {"text": "(c)", "anchor": "start", "frame": "group", "dx": -52, "offset": 2},
    "data": {"name": "c"},
    "layer": [
     {"transform": [{"filter": "datum.path === 'Direct path'"}], "mark": {"type": "line", "color": "#0000ff", "strokeWidth": 2.2, "strokeDash": [9, 4]},
      "encoding": {"x": {"field": "tc", "type": "quantitative", "scale": {"domain": [0, 1], "nice": false, "zero": false}, "axis": {"values": [0, 0.25, 0.5, 0.75, 1], "format": ".2f", "title": null, "labelOverlap": false}},
                   "y": {"field": "gsfe", "type": "quantitative", "scale": {"domain": [0, 16.45], "nice": false}, "axis": {"values": [0, 5, 10, 15], "format": ".0f", "title": null, "labelOverlap": false}}}},
     {"transform": [{"filter": "datum.path === 'Direct path'"}], "mark": {"type": "point", "shape": "circle", "filled": true, "opacity": 1, "size": 58, "color": "#0000ff", "strokeWidth": 0},
      "encoding": {"x": {"field": "tc", "type": "quantitative"}, "y": {"field": "gsfe", "type": "quantitative"}}},
     {"transform": [{"filter": "datum.path === 'NEB path'"}], "mark": {"type": "line", "color": "#ff0000", "strokeWidth": 2.2},
      "encoding": {"x": {"field": "tc", "type": "quantitative"}, "y": {"field": "gsfe", "type": "quantitative"}}},
     {"transform": [{"filter": "datum.path === 'NEB path'"}], "mark": {"type": "point", "shape": "cross", "filled": true, "opacity": 1, "size": 72, "color": "#ff0000", "strokeWidth": 0},
      "encoding": {"x": {"field": "tc", "type": "quantitative"}, "y": {"field": "gsfe", "type": "quantitative"}}},
     {"data": {"values": []}, "mark": {"type": "point", "filled": true, "opacity": 1, "size": 100, "strokeWidth": 0},
      "encoding": {"x": {"field": "tc", "type": "quantitative"}, "y": {"field": "gsfe", "type": "quantitative"},
       "color": {"field": "path", "type": "nominal", "scale": {"domain": ["Direct path", "NEB path"], "range": ["#0000ff", "#ff0000"]}, "legend": {"title": null, "legendX": 98, "legendY": 7}},
       "shape": {"field": "path", "type": "nominal", "scale": {"domain": ["Direct path", "NEB path"], "range": ["M-3.5,-0.22H-2.02V0.22H-3.5Z M-1.38,-0.22H0.1V0.22H-1.38Z M0.74,-0.22H2.22V0.22H0.74Z M2.86,-0.22H3.5V0.22H2.86Z M0.8,0A0.8,0.8,0,1,1,-0.8,0A0.8,0.8,0,1,1,0.8,0Z", "M-3.5,-0.22H3.5V0.22H-3.5Z M-0.3,-0.9H0.3V-0.3H0.9V0.3H0.3V0.9H-0.3V0.3H-0.9V-0.3H-0.3Z"]}, "legend": {"title": null, "legendX": 98, "legendY": 7}}}}
    ]
   }
  ]
 },
 {
  "title": {"text": "{111} Shuffle-set", "fontWeight": "bold", "fontSize": 22, "anchor": "middle", "frame": "bounds", "dx": 12, "offset": -8},
  "spacing": 62, "bounds": "flush",
  "resolve": {"scale": {"color": "independent", "shape": "independent"}, "legend": {"color": "independent", "shape": "independent"}},
  "hconcat": [
   {
    "width": 247, "height": 176,
    "title": {"text": "(d)", "anchor": "start", "frame": "group", "dx": -69, "offset": 2},
    "data": {"name": "d"},
    "layer": [
     {"transform": [{"filter": "datum.path === 'Direct path'"}], "mark": {"type": "line", "color": "#0000ff", "strokeWidth": 2.2, "strokeDash": [9, 4]},
      "encoding": {"x": {"field": "tc", "type": "quantitative", "scale": {"domain": [0, 1], "nice": false, "zero": false}, "axis": {"values": [0, 0.25, 0.5, 0.75, 1], "format": ".2f", "title": "TC at ⟨11̄0⟩", "labelOverlap": false}},
                   "y": {"field": "gsfe", "type": "quantitative", "scale": {"domain": [0, 11.33], "nice": false}, "axis": {"values": [0, 2, 4, 6, 8, 10], "format": ".0f", "title": "GSFE (J/m²)", "labelOverlap": false}}}},
     {"transform": [{"filter": "datum.path === 'Direct path'"}], "mark": {"type": "point", "shape": "circle", "filled": true, "opacity": 1, "size": 58, "color": "#0000ff", "strokeWidth": 0},
      "encoding": {"x": {"field": "tc", "type": "quantitative"}, "y": {"field": "gsfe", "type": "quantitative"}}},
     {"transform": [{"filter": "datum.path === 'NEB path'"}], "mark": {"type": "line", "color": "#ff0000", "strokeWidth": 2.2},
      "encoding": {"x": {"field": "tc", "type": "quantitative"}, "y": {"field": "gsfe", "type": "quantitative"}}},
     {"transform": [{"filter": "datum.path === 'NEB path'"}], "mark": {"type": "point", "shape": "cross", "filled": true, "opacity": 1, "size": 72, "color": "#ff0000", "strokeWidth": 0},
      "encoding": {"x": {"field": "tc", "type": "quantitative"}, "y": {"field": "gsfe", "type": "quantitative"}}},
     {"data": {"values": [{"tc": 0.5, "from": 5.59, "to": 7.8}]}, "mark": {"type": "rule", "color": "#ff00ff", "strokeWidth": 4},
      "encoding": {"x": {"field": "tc", "type": "quantitative"}, "y": {"field": "from", "type": "quantitative"}, "y2": {"field": "to"}}},
     {"data": {"values": [{"tc": 0.5, "tip": 8.21}]}, "mark": {"type": "point", "shape": "M-0.75,1.3L0.75,1.3L0,0Z", "filled": true, "opacity": 1, "size": 324, "color": "#ff00ff", "strokeWidth": 0},
      "encoding": {"x": {"field": "tc", "type": "quantitative"}, "y": {"field": "tip", "type": "quantitative"}}},
     {"data": {"values": [{"label": "Saddle point", "tc": 0.5, "gsfe": 4.86}]}, "mark": {"type": "text", "font": "Liberation Sans", "fontSize": 18.5, "color": "#ff00ff", "baseline": "middle"},
      "encoding": {"x": {"field": "tc", "type": "quantitative"}, "y": {"field": "gsfe", "type": "quantitative"}, "text": {"field": "label"}}},
     {"data": {"values": []}, "mark": {"type": "point", "filled": true, "opacity": 1, "size": 100, "strokeWidth": 0},
      "encoding": {"x": {"field": "tc", "type": "quantitative"}, "y": {"field": "gsfe", "type": "quantitative"},
       "color": {"field": "path", "type": "nominal", "scale": {"domain": ["Direct path", "NEB path"], "range": ["#0000ff", "#ff0000"]}, "legend": {"title": null, "legendX": 52, "legendY": 117}},
       "shape": {"field": "path", "type": "nominal", "scale": {"domain": ["Direct path", "NEB path"], "range": ["M-3.5,-0.22H-2.02V0.22H-3.5Z M-1.38,-0.22H0.1V0.22H-1.38Z M0.74,-0.22H2.22V0.22H0.74Z M2.86,-0.22H3.5V0.22H2.86Z M0.8,0A0.8,0.8,0,1,1,-0.8,0A0.8,0.8,0,1,1,0.8,0Z", "M-3.5,-0.22H3.5V0.22H-3.5Z M-0.3,-0.9H0.3V-0.3H0.9V0.3H0.3V0.9H-0.3V0.3H-0.9V-0.3H-0.3Z"]}, "legend": {"title": null, "legendX": 52, "legendY": 117}}}}
    ]
   },
   {
    "width": 247, "height": 176,
    "title": {"text": "(e)", "anchor": "start", "frame": "group", "dx": -53, "offset": 2},
    "data": {"name": "e"},
    "layer": [
     {"transform": [{"filter": "datum.path === 'Direct path'"}], "mark": {"type": "line", "color": "#0000ff", "strokeWidth": 2.2, "strokeDash": [9, 4]},
      "encoding": {"x": {"field": "tc", "type": "quantitative", "scale": {"domain": [0, 1], "nice": false, "zero": false}, "axis": {"values": [0, 0.25, 0.5, 0.75, 1], "format": ".2f", "title": "TC at ⟨112̄⟩", "labelOverlap": false}},
                   "y": {"field": "gsfe", "type": "quantitative", "scale": {"domain": [0, 13.22], "nice": false}, "axis": {"values": [0, 2, 4, 6, 8, 10, 12], "format": ".0f", "title": null, "labelOverlap": false}}}},
     {"transform": [{"filter": "datum.path === 'Direct path'"}], "mark": {"type": "point", "shape": "circle", "filled": true, "opacity": 1, "size": 58, "color": "#0000ff", "strokeWidth": 0},
      "encoding": {"x": {"field": "tc", "type": "quantitative"}, "y": {"field": "gsfe", "type": "quantitative"}}},
     {"transform": [{"filter": "datum.path === 'NEB path'"}], "mark": {"type": "line", "color": "#ff0000", "strokeWidth": 2.2},
      "encoding": {"x": {"field": "tc", "type": "quantitative"}, "y": {"field": "gsfe", "type": "quantitative"}}},
     {"transform": [{"filter": "datum.path === 'NEB path'"}], "mark": {"type": "point", "shape": "cross", "filled": true, "opacity": 1, "size": 72, "color": "#ff0000", "strokeWidth": 0},
      "encoding": {"x": {"field": "tc", "type": "quantitative"}, "y": {"field": "gsfe", "type": "quantitative"}}},
     {"data": {"values": []}, "mark": {"type": "point", "filled": true, "opacity": 1, "size": 100, "strokeWidth": 0},
      "encoding": {"x": {"field": "tc", "type": "quantitative"}, "y": {"field": "gsfe", "type": "quantitative"},
       "color": {"field": "path", "type": "nominal", "scale": {"domain": ["Direct path", "NEB path"], "range": ["#0000ff", "#ff0000"]}, "legend": {"title": null, "legendX": 7, "legendY": 9}},
       "shape": {"field": "path", "type": "nominal", "scale": {"domain": ["Direct path", "NEB path"], "range": ["M-3.5,-0.22H-2.02V0.22H-3.5Z M-1.38,-0.22H0.1V0.22H-1.38Z M0.74,-0.22H2.22V0.22H0.74Z M2.86,-0.22H3.5V0.22H2.86Z M0.8,0A0.8,0.8,0,1,1,-0.8,0A0.8,0.8,0,1,1,0.8,0Z", "M-3.5,-0.22H3.5V0.22H-3.5Z M-0.3,-0.9H0.3V-0.3H0.9V0.3H0.3V0.9H-0.3V0.3H-0.9V-0.3H-0.3Z"]}, "legend": {"title": null, "legendX": 7, "legendY": 9}}}}
    ]
   },
   {
    "width": 247, "height": 176,
    "title": {"text": "(f)", "anchor": "start", "frame": "group", "dx": -52, "offset": 2},
    "data": {"name": "f"},
    "layer": [
     {"transform": [{"filter": "datum.path === 'Direct path'"}], "mark": {"type": "line", "color": "#0000ff", "strokeWidth": 2.2, "strokeDash": [9, 4]},
      "encoding": {"x": {"field": "tc", "type": "quantitative", "scale": {"domain": [0, 1], "nice": false, "zero": false}, "axis": {"values": [0, 0.25, 0.5, 0.75, 1], "format": ".2f", "title": "TC at ⟨202̄⟩", "labelOverlap": false}},
                   "y": {"field": "gsfe", "type": "quantitative", "scale": {"domain": [0, 11.26], "nice": false}, "axis": {"values": [0, 2, 4, 6, 8, 10], "format": ".0f", "title": null, "labelOverlap": false}}}},
     {"transform": [{"filter": "datum.path === 'Direct path'"}], "mark": {"type": "point", "shape": "circle", "filled": true, "opacity": 1, "size": 58, "color": "#0000ff", "strokeWidth": 0},
      "encoding": {"x": {"field": "tc", "type": "quantitative"}, "y": {"field": "gsfe", "type": "quantitative"}}},
     {"transform": [{"filter": "datum.path === 'NEB path'"}], "mark": {"type": "line", "color": "#ff0000", "strokeWidth": 2.2},
      "encoding": {"x": {"field": "tc", "type": "quantitative"}, "y": {"field": "gsfe", "type": "quantitative"}}},
     {"transform": [{"filter": "datum.path === 'NEB path'"}], "mark": {"type": "point", "shape": "cross", "filled": true, "opacity": 1, "size": 72, "color": "#ff0000", "strokeWidth": 0},
      "encoding": {"x": {"field": "tc", "type": "quantitative"}, "y": {"field": "gsfe", "type": "quantitative"}}},
     {"data": {"values": []}, "mark": {"type": "point", "filled": true, "opacity": 1, "size": 100, "strokeWidth": 0},
      "encoding": {"x": {"field": "tc", "type": "quantitative"}, "y": {"field": "gsfe", "type": "quantitative"},
       "color": {"field": "path", "type": "nominal", "scale": {"domain": ["Direct path", "NEB path"], "range": ["#0000ff", "#ff0000"]}, "legend": {"title": null, "legendX": 98, "legendY": 8}},
       "shape": {"field": "path", "type": "nominal", "scale": {"domain": ["Direct path", "NEB path"], "range": ["M-3.5,-0.22H-2.02V0.22H-3.5Z M-1.38,-0.22H0.1V0.22H-1.38Z M0.74,-0.22H2.22V0.22H0.74Z M2.86,-0.22H3.5V0.22H2.86Z M0.8,0A0.8,0.8,0,1,1,-0.8,0A0.8,0.8,0,1,1,0.8,0Z", "M-3.5,-0.22H3.5V0.22H-3.5Z M-0.3,-0.9H0.3V-0.3H0.9V0.3H0.3V0.9H-0.3V0.3H-0.9V-0.3H-0.3Z"]}, "legend": {"title": null, "legendX": 98, "legendY": 8}}}}
    ]
   }
  ]
 }
]
}
